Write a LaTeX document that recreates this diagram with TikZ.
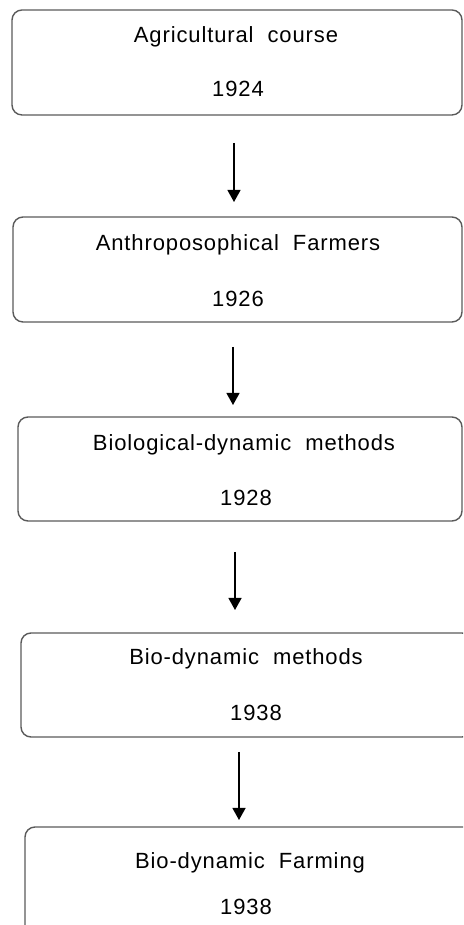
\documentclass[tikz,border=0pt]{standalone}
\usepackage{fontspec}
\setmainfont{Liberation Sans}[LetterSpace=4]
\usetikzlibrary{arrows.meta}
\definecolor{boxline}{HTML}{5A5A5A}
\tikzset{
  stage/.style={draw=boxline, line width=1.4pt, rounded corners=10pt, rectangle, inner sep=0pt, outer sep=0pt},
  lbl/.style={inner sep=0pt, font=\fontsize{22}{24}\selectfont},
  arr/.style={line width=1.3pt, -{Triangle[width=13pt,length=12pt]}}
}
\begin{document}
\begin{tikzpicture}[x=1pt,y=1pt]
\useasboundingbox (0,0) rectangle (463,925);
\clip (0,0) rectangle (463,925);
\node[stage, minimum width=450pt, minimum height=105pt] (b1) at (237,862.5) {};
\node[stage, minimum width=449pt, minimum height=105pt] (b2) at (237.5,655.5) {};
\node[stage, minimum width=444pt, minimum height=104pt] (b3) at (240,456) {};
\node[stage, minimum width=451pt, minimum height=104pt] (b4) at (246.5,240) {};
\node[stage, minimum width=450pt, minimum height=113pt] (b5) at (250,41.5) {};

\node[lbl] (t1a) at (236,888) {Agricultural\ \ course};
\node[lbl] (t1b) at (238,836) {1924};
\node[lbl] (t2a) at (238,680) {Anthroposophical\ \ Farmers};
\node[lbl] (t2b) at (238,626) {1926};
\node[lbl] (t3a) at (244,480) {Biological-dynamic\ \ methods};
\node[lbl] (t3b) at (246,427) {1928};
\node[lbl] (t4a) at (246,266) {Bio-dynamic\ \ methods};
\node[lbl] (t4b) at (256,212) {1938};
\node[lbl] (t5a) at (250,62) {Bio-dynamic\ \ Farming};
\node[lbl] (t5b) at (246,18) {1938};

\draw[arr] ([xshift=-3pt,yshift=-28pt]b1.south) -- ([xshift=-3.5pt,yshift=15pt]b2.north);
\draw[arr] ([xshift=-4.5pt,yshift=-25pt]b2.south) -- ([xshift=-7pt,yshift=12pt]b3.north);
\draw[arr] ([xshift=-5pt,yshift=-31pt]b3.south) -- ([xshift=-11.5pt,yshift=23pt]b4.north);
\draw[arr] ([xshift=-7.5pt,yshift=-15pt]b4.south) -- ([xshift=-11pt,yshift=7pt]b5.north);
\end{tikzpicture}
\end{document}
